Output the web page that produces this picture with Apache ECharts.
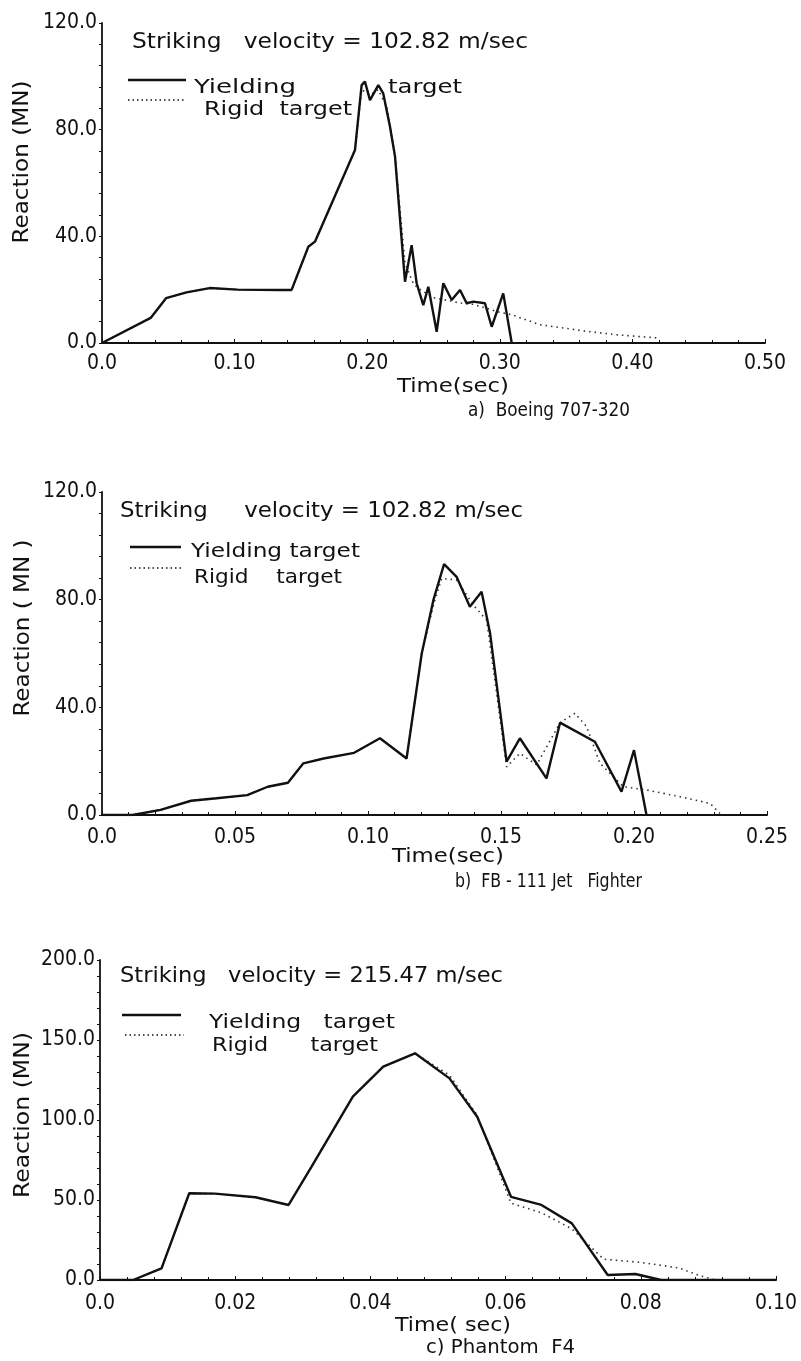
<!DOCTYPE html>
<html lang="en">
<head>
<meta charset="utf-8">
<title>Impact reaction - time histories</title>
<script src="https://cdn.jsdelivr.net/npm/echarts@6/dist/echarts.min.js"></script>
<style>
  html, body { margin: 0; padding: 0; background: #fff; }
  #main { width: 801px; height: 1361px; }
</style>
</head>
<body>
<div id="main"></div>
<script>
// a) Boeing 707-320
var aYieldT = [0, 0.0367, 0.0483, 0.0637, 0.0811, 0.1023, 0.134, 0.143, 0.1556, 0.1606, 0.1908, 0.1958, 0.1983, 0.2021, 0.2084, 0.2121, 0.2172, 0.221, 0.2285, 0.2335, 0.2373, 0.2423, 0.2461, 0.2524, 0.2574, 0.2637, 0.27, 0.275, 0.28, 0.2888, 0.2939, 0.3026, 0.309]
var aYieldV = [0, 9.4, 16.8, 19.0, 20.6, 20.0, 19.9, 19.9, 36.1, 38.0, 72.4, 96.7, 98.0, 91.1, 96.7, 93.6, 81.1, 69.9, 23.0, 36.7, 22.4, 14.2, 21.1, 4.2, 22.4, 16.1, 19.9, 14.9, 15.5, 14.9, 6.1, 18.6, 0]
var aRigidT = [0, 0.0367, 0.0483, 0.0637, 0.0811, 0.1023, 0.134, 0.143, 0.1556, 0.1606, 0.1908, 0.1958, 0.2021, 0.2084, 0.215, 0.221, 0.2285, 0.235, 0.24, 0.25, 0.26, 0.27, 0.28, 0.29, 0.30, 0.309, 0.33, 0.365, 0.39, 0.419]
var aRigidV = [0, 9.4, 16.8, 19.0, 20.6, 20.0, 19.9, 19.9, 36.1, 38.0, 72.4, 95.0, 93.0, 95.0, 88.0, 70.0, 30.0, 22.0, 20.0, 17.0, 16.0, 15.0, 14.5, 13.0, 11.5, 10.6, 6.9, 4.4, 3.0, 1.9]

// b) FB-111 Jet Fighter
var bYieldT = [0, 0.0115, 0.022, 0.0335, 0.0431, 0.0546, 0.0623, 0.0699, 0.0757, 0.0833, 0.0948, 0.1045, 0.1145, 0.1202, 0.1246, 0.1286, 0.1333, 0.1383, 0.1427, 0.1459, 0.1521, 0.1571, 0.1671, 0.1722, 0.1853, 0.1953, 0.2, 0.2047]
var bYieldV = [0, 0, 1.9, 5.3, 6.2, 7.4, 10.5, 12.0, 19.2, 21.0, 23.1, 28.5, 21.0, 60.0, 79.9, 93.2, 88.5, 77.4, 82.9, 67.5, 19.8, 28.5, 13.6, 34.3, 27.2, 8.7, 24.1, 0]
var bRigidT = [0, 0.0115, 0.022, 0.0335, 0.0431, 0.0546, 0.0623, 0.0699, 0.0757, 0.0833, 0.0948, 0.1045, 0.1145, 0.1202, 0.1246, 0.1277, 0.1333, 0.1396, 0.1446, 0.1521, 0.1571, 0.1634, 0.1722, 0.1778, 0.1822, 0.1872, 0.196, 0.2047, 0.2173, 0.2286, 0.2323]
var bRigidV = [0, 0, 1.9, 5.3, 6.2, 7.4, 10.5, 12.0, 19.2, 21.0, 23.1, 28.5, 21.0, 60.0, 78.0, 87.9, 87.3, 78.0, 72.4, 17.9, 22.9, 18.6, 34.3, 37.8, 32.8, 19.2, 10.5, 9.3, 6.8, 4.3, 0.6]

// c) Phantom F4
var cYieldT = [0, 0.0049, 0.0091, 0.0132, 0.017, 0.023, 0.0279, 0.0313, 0.0374, 0.0419, 0.0466, 0.0517, 0.0558, 0.0608, 0.0653, 0.0698, 0.0751, 0.0792, 0.083, 0.1]
var cYieldV = [0, 0, 7.3, 54.2, 54.0, 51.7, 46.9, 70.8, 114.6, 133.3, 141.7, 126.0, 102.0, 52.0, 46.9, 35.4, 3.1, 3.75, 0, 0]
var cRigidT = [0, 0.0049, 0.0091, 0.0132, 0.017, 0.023, 0.0279, 0.0313, 0.0374, 0.0419, 0.0466, 0.0517, 0.0558, 0.0608, 0.0653, 0.0698, 0.0745, 0.08, 0.0857, 0.0885, 0.091]
var cRigidV = [0, 0, 7.3, 54.2, 54.0, 51.7, 46.9, 70.8, 114.6, 133.3, 141.7, 128.0, 103.0, 48.0, 42.0, 32.0, 13.0, 11.0, 7.5, 3.0, 0]

var aXLabels = ['0.0', '0.10', '0.20', '0.30', '0.40', '0.50']
var bXLabels = ['0.0', '0.05', '0.10', '0.15', '0.20', '0.25']
var cXLabels = ['0.0', '0.02', '0.04', '0.06', '0.08', '0.10']
var abYLabels = ['0.0', '40.0', '80.0', '120.0']
var cYLabels = ['0.0', '50.0', '100.0', '150.0', '200.0']

var FONT = 'DejaVu Sans Condensed'
var INK = '#111'

var zip = function (ts, vs) {
    var out = []
    for (var i = 0; i < ts.length; i++) {
        out.push([ts[i], vs[i]])
    }
    return out
}

var labelFrom = function (arr, max) {
    return function (v) {
        var idx = Math.round(v / max * (arr.length - 1))
        return arr[idx] !== undefined ? arr[idx] : ''
    }
}

var makeX = function (idx, max, interval, labels, margin) {
    return {
        gridIndex: idx, type: 'value', min: 0, max: max, interval: interval,
        axisLine: { lineStyle: { color: INK, width: 2 } },
        axisTick: { show: true, inside: true, length: 4, lineStyle: { color: INK } },
        minorTick: { show: true, splitNumber: 5, length: 3, lineStyle: { color: INK } },
        splitLine: { show: false },
        axisLabel: { color: INK, fontSize: 21, fontFamily: FONT, margin: margin, formatter: labelFrom(labels, max) }
    }
}

var makeY = function (idx, max, interval, labels) {
    return {
        gridIndex: idx, type: 'value', min: 0, max: max, interval: interval,
        axisLine: { show: true, lineStyle: { color: INK, width: 1.8 } },
        axisTick: { show: true, inside: false, length: 3, lineStyle: { color: INK } },
        minorTick: { show: true, splitNumber: 5, length: 3, lineStyle: { color: INK } },
        splitLine: { show: false },
        axisLabel: { color: INK, fontSize: 21, fontFamily: FONT, margin: 5, formatter: labelFrom(labels, max) }
    }
}

var solid = function (idx, data) {
    return {
        type: 'line', xAxisIndex: idx, yAxisIndex: idx, data: data, symbol: 'none',
        lineStyle: { color: INK, width: 2.4 }, z: 4, animation: false
    }
}

var dotted = function (idx, data) {
    return {
        type: 'line', xAxisIndex: idx, yAxisIndex: idx, data: data, symbol: 'none',
        lineStyle: { color: '#333', width: 1.6, type: [1.5, 4] }, z: 3, animation: false
    }
}

// text stretched to the width it has in the picture
var ctx = document.createElement('canvas').getContext('2d')
var fit = function (s, x1, x2, cy, size) {
    var font = size + 'px "' + FONT + '"'
    ctx.font = font
    var w = ctx.measureText(s).width
    return {
        type: 'text', x: x1, y: cy, scaleX: (x2 - x1) / w,
        style: { text: s, fill: INK, font: font, align: 'left', verticalAlign: 'middle' }
    }
}

var yName = function (cx, cy, len, s, size) {
    var font = size + 'px "' + FONT + '"'
    ctx.font = font
    var w = ctx.measureText(s).width
    return {
        type: 'text', x: cx, y: cy, rotation: Math.PI / 2, scaleX: len / w,
        style: { text: s, fill: INK, font: font, align: 'center', verticalAlign: 'middle' }
    }
}

var seg = function (x1, x2, y, dash) {
    return {
        type: 'line', shape: { x1: x1, y1: y, x2: x2, y2: y },
        style: { stroke: INK, lineWidth: dash ? 1.5 : 2.6, lineDash: dash ? [1.5, 3] : null }
    }
}

var showChart = function () {
    var chart = echarts.init(document.getElementById('main'), null, { renderer: 'canvas' })
    var option = {
        backgroundColor: '#fff',
        animation: false,
        grid: [
            { left: 102, top: 23, width: 663, height: 320 },
            { left: 102, top: 492, width: 665, height: 323 },
            { left: 100, top: 960, width: 676, height: 320 }
        ],
        xAxis: [makeX(0, 0.5, 0.1, aXLabels, 10), makeX(1, 0.25, 0.05, bXLabels, 12), makeX(2, 0.1, 0.02, cXLabels, 13)],
        yAxis: [makeY(0, 120, 40, abYLabels), makeY(1, 120, 40, abYLabels), makeY(2, 200, 50, cYLabels)],
        series: [
            dotted(0, zip(aRigidT, aRigidV)), solid(0, zip(aYieldT, aYieldV)),
            dotted(1, zip(bRigidT, bRigidV)), solid(1, zip(bYieldT, bYieldV)),
            dotted(2, zip(cRigidT, cRigidV)), solid(2, zip(cYieldT, cYieldV))
        ],
        graphic: [
            // panel a
            fit('Striking   velocity = 102.82 m/sec', 132, 528, 43, 21),
            seg(128, 186, 80, false), fit('Yielding', 194, 296, 88, 20), fit('target', 388, 462, 88, 20),
            seg(128, 186, 100, true), fit('Rigid  target', 204, 352, 110, 20),
            yName(23, 162, 163, 'Reaction (MN)', 21),
            fit('Time(sec)', 397, 509, 387, 20),
            fit('a)  Boeing 707-320', 468, 630, 411, 19),
            // panel b
            fit('Striking     velocity = 102.82 m/sec', 120, 523, 512, 21),
            seg(130, 181, 547, false), fit('Yielding target', 191, 360, 552, 20),
            seg(130, 181, 568, true), fit('Rigid    target', 194, 342, 578, 20),
            yName(24, 628, 177, 'Reaction ( MN )', 21),
            fit('Time(sec)', 392, 504, 857, 20),
            fit('b)  FB - 111 Jet   Fighter', 455, 642, 882, 19),
            // panel c
            fit('Striking   velocity = 215.47 m/sec', 120, 503, 977, 21),
            seg(122, 181, 1015, false), fit('Yielding   target', 209, 395, 1023, 20),
            seg(125, 184, 1035, true), fit('Rigid      target', 212, 378, 1046, 20),
            yName(24, 1115, 166, 'Reaction (MN)', 21),
            fit('Time( sec)', 395, 511, 1326, 20),
            fit('c) Phantom  F4', 426, 575, 1348, 19)
        ]
    }
    chart.setOption(option)
}

showChart()
</script>
</body>
</html>
